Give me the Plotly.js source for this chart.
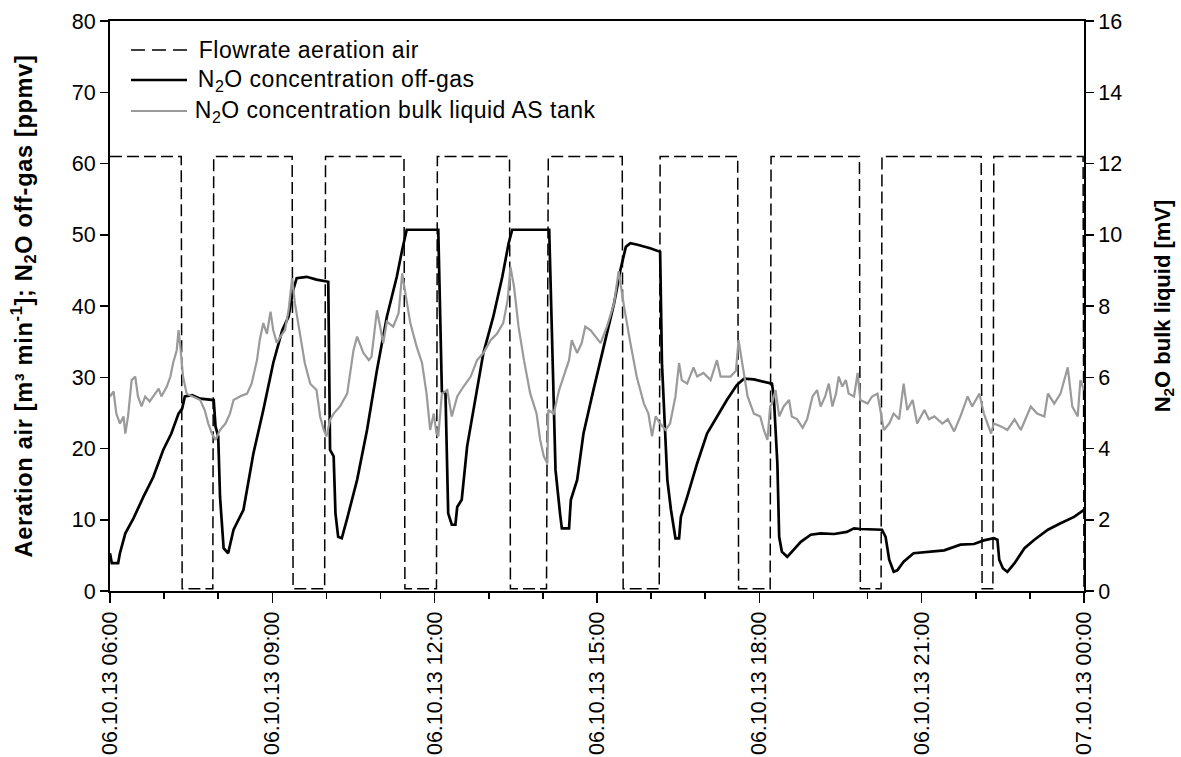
<!DOCTYPE html>
<html>
<head>
<meta charset="utf-8">
<script src="https://cdn.plot.ly/plotly-3.0.1.min.js"></script>
<style>
  html, body { margin: 0; padding: 0; background: #fff; }
  #chart { width: 1181px; height: 757px; }
  #chart .annotation-text { letter-spacing: 0.5px; }
  #chart .ytitle { letter-spacing: 0.7px; }
</style>
</head>
<body>
<div id="chart"></div>
<script>
// Aeration air flow rate (m3/min), switched on/off by the controller
const flowTime = ["06:00","07:19","07:20","07:54","07:55","09:22","09:23","09:58","09:59","11:26","11:27","12:02","12:03","13:23","13:24","14:04","14:06","15:28","15:29","16:09","16:10","17:36","17:37","18:12","18:13","19:51","19:52","20:15","20:16","22:06","22:07","22:19","22:20","23:59","24:00"];
const flowRate = [61,61,0.3,0.3,61,61,0.3,0.3,61,61,0.3,0.3,61,61,0.3,0.3,61,61,0.3,0.3,61,61,0.3,0.3,61,61,0.3,0.3,61,61,0.3,0.3,61,61,0.3];

// N2O concentration in the off-gas (ppmv)
const offGasTime = ["06:00","06:02","06:09","06:11","06:17","06:26","06:37","06:48","06:59","07:08","07:16","07:20","07:23","07:31","07:40","07:55","07:57","08:00","08:02","08:06","08:11","08:17","08:28","08:39","08:50","09:01","09:11","09:18","09:23","09:27","09:38","09:49","10:02","10:03","10:04","10:08","10:10","10:13","10:17","10:23","10:34","10:45","10:56","11:07","11:18","11:24","11:29","12:04","12:06","12:08","12:12","12:14","12:15","12:19","12:23","12:25","12:30","12:36","12:43","12:54","13:05","13:15","13:22","13:26","14:07","14:10","14:14","14:19","14:21","14:29","14:31","14:38","14:45","14:56","15:08","15:19","15:26","15:32","15:37","15:45","15:59","16:10","16:12","16:18","16:22","16:27","16:31","16:33","16:40","16:51","17:02","17:13","17:24","17:35","17:43","17:54","18:14","18:16","18:20","18:22","18:25","18:31","18:36","18:46","18:57","19:08","19:23","19:37","19:45","19:52","20:16","20:20","20:24","20:29","20:33","20:40","20:51","21:06","21:25","21:43","21:58","22:09","22:20","22:24","22:26","22:30","22:35","22:43","22:54","23:05","23:20","23:34","23:49","24:00"];
const offGasN2O = [5.3,3.9,3.9,5.3,8.1,10.2,13.2,16.0,19.8,22.1,24.9,25.6,27.3,27.5,27.0,26.8,23.1,21.7,13.2,6.0,5.3,8.6,11.4,19.3,25.4,32.0,36.6,38.5,42.2,43.9,44.1,43.7,43.4,32.0,19.8,18.9,10.9,7.6,7.4,10.2,15.6,22.6,31.0,38.5,44.1,47.9,50.7,50.7,36.6,28.0,27.7,13.2,10.9,9.3,9.3,11.8,12.8,20.3,25.4,33.4,38.5,44.1,48.8,50.7,50.7,35.2,17.0,10.9,8.8,8.8,12.8,15.6,22.1,28.2,34.8,40.4,45.1,48.3,48.8,48.6,48.1,47.6,32.0,15.6,11.4,7.4,7.4,10.4,13.2,17.9,22.1,24.5,26.8,28.9,29.8,29.7,29.1,27.3,17.9,7.6,5.5,4.8,5.5,6.9,7.9,8.1,8.0,8.3,8.8,8.7,8.6,7.6,4.4,2.7,2.9,4.1,5.3,5.5,5.7,6.5,6.6,7.1,7.4,7.2,4.4,3.2,2.7,3.9,6.0,7.2,8.6,9.5,10.4,11.4];

// N2O sensor signal in the bulk liquid of the AS tank (mV)
const bulkTime = ["06:00","06:04","06:07","06:11","06:15","06:17","06:20","06:24","06:28","06:31","06:35","06:39","06:44","06:50","06:54","06:57","07:03","07:07","07:10","07:14","07:16","07:18","07:21","07:25","07:31","07:40","07:45","07:49","07:53","07:57","08:02","08:08","08:13","08:17","08:24","08:32","08:37","08:43","08:46","08:50","08:54","08:58","09:01","09:05","09:09","09:14","09:18","09:22","09:25","09:31","09:36","09:42","09:49","09:53","09:57","10:00","10:04","10:08","10:15","10:23","10:30","10:34","10:37","10:41","10:47","10:50","10:56","11:00","11:03","11:07","11:14","11:20","11:24","11:27","11:33","11:40","11:46","11:51","11:55","11:59","12:02","12:04","12:08","12:14","12:19","12:25","12:32","12:40","12:47","12:54","13:02","13:09","13:16","13:21","13:24","13:28","13:33","13:39","13:46","13:53","13:57","14:01","14:05","14:06","14:12","14:18","14:23","14:29","14:32","14:38","14:43","14:47","14:53","14:58","15:04","15:11","15:19","15:24","15:30","15:37","15:44","15:52","15:57","16:01","16:05","16:10","16:16","16:21","16:27","16:31","16:34","16:40","16:47","16:51","16:58","17:06","17:13","17:17","17:28","17:34","17:37","17:41","17:47","17:54","18:01","18:05","18:09","18:12","18:14","18:18","18:22","18:27","18:33","18:36","18:42","18:48","18:53","18:59","19:04","19:08","19:13","19:17","19:21","19:25","19:28","19:32","19:36","19:39","19:45","19:49","19:52","20:00","20:05","20:11","20:15","20:18","20:24","20:29","20:35","20:40","20:44","20:50","20:55","21:03","21:08","21:14","21:23","21:29","21:36","21:43","21:51","21:56","22:04","22:09","22:17","22:20","22:28","22:35","22:43","22:50","22:55","23:01","23:08","23:16","23:20","23:27","23:34","23:42","23:47","23:53","23:56","24:00"];
const bulkMV = [5.46,5.60,4.98,4.70,4.90,4.42,4.90,5.92,6.02,5.46,5.18,5.46,5.32,5.54,5.68,5.46,5.74,6.02,6.40,6.76,7.32,6.86,6.02,5.54,5.46,5.36,5.08,4.70,4.42,4.24,4.52,4.70,4.98,5.36,5.46,5.54,5.82,6.48,7.04,7.52,7.22,7.84,7.32,6.96,7.14,7.32,7.88,8.78,8.08,7.14,6.40,5.82,5.64,4.90,4.52,4.34,4.80,4.98,5.18,5.54,6.76,7.14,6.96,6.68,6.48,6.58,7.88,7.32,6.96,7.56,7.42,7.80,8.92,8.44,7.52,6.86,6.40,5.54,4.52,4.98,4.42,4.34,5.54,5.64,4.90,5.46,5.74,6.02,6.48,6.68,7.04,7.22,7.52,8.18,9.10,8.54,7.42,6.48,5.54,4.98,4.24,3.78,3.58,5.08,4.98,5.64,6.02,6.48,7.04,6.68,6.96,7.42,7.32,7.14,6.96,7.42,8.08,8.98,7.98,6.96,6.02,5.26,4.98,4.34,4.90,4.70,4.52,4.70,5.46,6.40,5.92,5.82,6.28,6.02,6.12,5.92,6.48,6.02,6.02,6.18,7.04,6.40,5.46,4.98,4.90,4.52,4.24,5.18,5.26,5.64,4.90,5.18,5.36,4.90,4.82,4.58,4.82,5.46,5.64,5.18,5.46,5.82,5.18,5.54,6.02,5.74,5.92,5.54,5.46,6.12,5.36,5.26,5.46,5.54,4.90,4.52,4.70,4.98,4.82,5.82,5.08,5.36,4.70,5.08,4.82,4.90,4.70,4.82,4.48,4.90,5.46,5.18,5.54,4.98,4.42,4.70,4.62,4.52,4.82,4.52,4.82,5.18,4.98,4.90,5.54,5.26,5.54,6.28,5.18,4.90,5.92,5.64];

// Legend entries
const legendLabels = [
  "Flowrate aeration air",
  "N<sub>2</sub>O concentration off-gas",
  "N<sub>2</sub>O concentration bulk liquid AS tank"
];

// "HH:MM" on 06.10.2013 -> timestamp; 24:00 rolls over to the next day
function stamp(hm) {
  return hm === "24:00" ? "2013-10-07 00:00:00" : "2013-10-06 " + hm + ":00";
}

const font = "Liberation Sans, Arial, Helvetica, sans-serif";

// plot area in pixels
const W = 1181, H = 757;
const M = { l: 110, r: 97, t: 21, b: 166 };
const plotW = W - M.l - M.r, plotH = H - M.t - M.b;
const px = v => (v - M.l) / plotW;           // page x -> paper x
const py = v => (H - M.b - v) / plotH;       // page y -> paper y

const styles = [
  { color: "#000", width: 1.5, dash: "12px,5px" },
  { color: "#000", width: 2.7 },
  { color: "#9a9a9a", width: 2.2 }
];

const traces = [
  { x: flowTime.map(stamp), y: flowRate, yaxis: "y", type: "scatter", mode: "lines",
    name: legendLabels[0], line: styles[0] },
  { x: offGasTime.map(stamp), y: offGasN2O, yaxis: "y", type: "scatter", mode: "lines",
    name: legendLabels[1], line: styles[1] },
  { x: bulkTime.map(stamp), y: bulkMV, yaxis: "y2", type: "scatter", mode: "lines",
    name: legendLabels[2], line: styles[2] }
];

// legend drawn as key lines + labels in the upper left corner
const legendRows = [50, 80, 111];
const shapes = legendLabels.map((_, i) => ({
  type: "line", xref: "paper", yref: "paper",
  x0: px(131), x1: px(187), y0: py(legendRows[i]), y1: py(legendRows[i]),
  line: i === 0 ? { color: "#000", width: 1.5, dash: "14px,7px" } : styles[i]
}));
const annotations = legendLabels.map((t, i) => ({
  text: t, xref: "paper", yref: "paper",
  x: px(202), y: py(legendRows[i]), xanchor: "left", yanchor: "middle",
  showarrow: false, font: { family: font, size: 23, color: "#000" }
}));

const axisCommon = {
  showline: true, linecolor: "#000", linewidth: 2,
  ticks: "outside", tickcolor: "#000", tickwidth: 1.5,
  showgrid: false, zeroline: false, automargin: false,
  tickfont: { family: font, size: 21.5, color: "#000" }
};

const layout = {
  width: W, height: H,
  margin: { l: M.l, r: M.r, t: M.t, b: M.b, pad: 0 },
  paper_bgcolor: "#fff", plot_bgcolor: "#fff",
  font: { family: font, color: "#000", size: 21.5 },
  showlegend: false,
  shapes: shapes,
  annotations: annotations,
  xaxis: Object.assign({}, axisCommon, {
    type: "date",
    range: ["2013-10-06 06:00:00", "2013-10-07 00:00:00"],
    tick0: "2013-10-06 06:00:00", dtick: 3 * 3600 * 1000,
    tickformat: "%d.%m.%y %H:%M", tickangle: -90, ticklen: 10,
    mirror: true,
    minor: { dtick: 3600 * 1000, ticks: "outside", ticklen: 6, tickwidth: 1.5, tickcolor: "#000", showgrid: false }
  }),
  yaxis: Object.assign({}, axisCommon, {
    range: [0, 80], dtick: 10, ticklen: 8,
    title: {
      text: "<b>Aeration air [m³ min<sup>-1</sup>]; N<sub>2</sub>O off-gas [ppmv]</b>",
      font: { family: font, size: 23.5, color: "#000" }, standoff: 33
    }
  }),
  yaxis2: Object.assign({}, axisCommon, {
    overlaying: "y", side: "right",
    range: [0, 16], dtick: 2, ticklen: 8,
    title: {
      text: "<b>N<sub>2</sub>O bulk liquid [mV]</b>",
      font: { family: font, size: 22, color: "#000" }, standoff: 33
    }
  })
};

Plotly.newPlot("chart", traces, layout, { displayModeBar: false, staticPlot: true });
</script>
</body>
</html>
